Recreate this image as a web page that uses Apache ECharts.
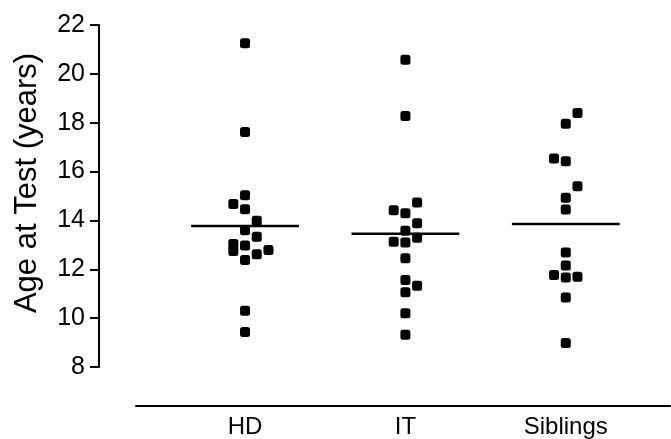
<!DOCTYPE html>
<html>
<head>
<meta charset="utf-8">
<script src="https://cdn.jsdelivr.net/npm/echarts@6/dist/echarts.min.js"></script>
<style>
html,body{margin:0;padding:0;background:#fff;}
#chart{width:671px;height:439px;}
</style>
</head>
<body>
<div id="chart"></div>
<script>
// Data
var categories = ['HD', 'IT', 'Siblings'];
var yTicks = [8, 10, 12, 14, 16, 18, 20, 22];

var hdValues = [21.25, 17.62, 15.03, 14.67, 14.46, 13.99, 13.60, 13.33, 13.03, 12.75, 12.97, 12.79, 12.62, 12.38, 10.30, 9.43];
var hdSlots  = [0, 0, 0, -1, 0, 1, 0, 1, -1, -1, 0, 2, 1, 0, 0, 0];

var itValues = [20.58, 18.27, 14.73, 14.42, 14.29, 13.88, 13.58, 13.29, 13.13, 13.10, 12.45, 11.56, 11.33, 11.06, 10.20, 9.32];
var itSlots  = [0, 0, 1, -1, 0, 1, 0, 1, -1, 0, 0, 0, 1, 0, 0, 0];

var sibValues = [18.40, 17.96, 16.53, 16.42, 15.40, 14.93, 14.45, 12.69, 12.15, 11.77, 11.66, 11.69, 10.84, 8.98];
var sibSlots  = [1, 0, -1, 0, 1, 0, 0, 0, 0, -1, 0, 1, 0, 0];

var groupMeans = [13.77, 13.45, 13.85];

// Styling constants
var JITTER = 0.073;     // horizontal spread of side-by-side dots, in category units
var MEAN_HALF = 0.336;  // half-width of mean line, in category units
var FONT = '"Liberation Sans", Arial, Helvetica, sans-serif';

function buildPoints(gi, values, slots) {
  return values.map(function (v, i) { return [gi + slots[i] * JITTER, v]; });
}

var groups = [
  buildPoints(0, hdValues, hdSlots),
  buildPoints(1, itValues, itSlots),
  buildPoints(2, sibValues, sibSlots)
];

var chart = echarts.init(document.getElementById('chart'), null, {renderer: 'canvas'});

var series = groups.map(function (pts, gi) {
  return {
    type: 'scatter',
    name: categories[gi],
    data: pts,
    symbol: 'roundRect',
    symbolSize: 10,
    itemStyle: {color: '#000', opacity: 1},
    silent: true,
    z: 3
  };
});

series.push({
  type: 'custom',
  name: 'mean',
  data: groupMeans.map(function (m, gi) { return [gi, m]; }),
  renderItem: function (params, api) {
    var gi = api.value(0), m = api.value(1);
    var p1 = api.coord([gi - MEAN_HALF, m]);
    var p2 = api.coord([gi + MEAN_HALF, m]);
    return {
      type: 'line',
      shape: {x1: p1[0], y1: p1[1], x2: p2[0], y2: p2[1]},
      style: {stroke: '#000', lineWidth: 2.5}
    };
  },
  silent: true,
  z: 2
});

chart.setOption({
  animation: false,
  backgroundColor: '#fff',
  grid: {left: 136, right: 1, top: 25, bottom: 70, containLabel: false},
  xAxis: {
    type: 'value',
    min: -0.68,
    max: 2.65,
    offset: 39,
    splitLine: {show: false},
    axisLine: {show: true, onZero: false, lineStyle: {color: '#000', width: 2}},
    axisTick: {show: false},
    axisLabel: {
      customValues: [0, 1, 2],
      formatter: function (v) { return categories[Math.round(v)] || ''; },
      color: '#000',
      fontSize: 24,
      fontFamily: FONT,
      margin: 9
    }
  },
  yAxis: {
    type: 'value',
    min: yTicks[0],
    max: yTicks[yTicks.length - 1],
    interval: 2,
    offset: 37,
    splitLine: {show: false},
    axisLine: {show: true, onZero: false, lineStyle: {color: '#000', width: 2}},
    axisTick: {show: true, length: 9, lineStyle: {color: '#000', width: 2}},
    axisLabel: {color: '#000', fontSize: 25, fontFamily: FONT, margin: 14},
    name: 'Age at Test (years)',
    nameLocation: 'middle',
    nameGap: 56,
    nameTextStyle: {color: '#000', fontSize: 31, fontFamily: FONT, padding: [0, 0, 0, 26]}
  },
  series: series
});
</script>
</body>
</html>
